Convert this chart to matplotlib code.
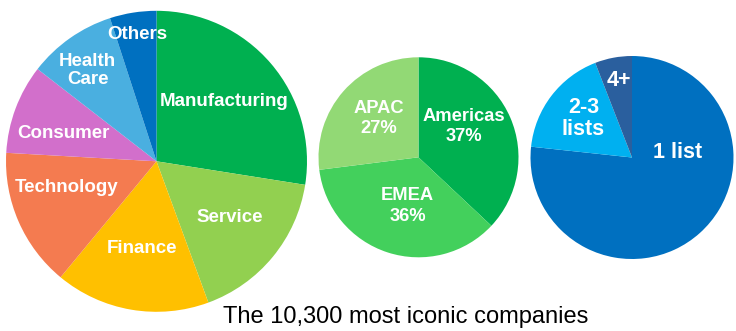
import matplotlib
matplotlib.use("Agg")
import matplotlib.pyplot as plt

# ---- data ----
industry_labels = ["Manufacturing", "Service", "Finance", "Technology", "Consumer", "Health\nCare", "Others"]
industry_values = [27.5, 16.9, 16.6, 14.9, 9.6, 9.5, 5.0]
industry_colors = ["#00B050", "#92D050", "#FFC000", "#F47B50", "#D26FCB", "#4AAFE0", "#0070C0"]

region_labels = ["Americas\n37%", "EMEA\n36%", "APAC\n27%"]
region_values = [37, 36, 27]
region_colors = ["#00B050", "#43D05C", "#92D975"]

lists_labels = ["1 list", "2-3\nlists", "4+"]
lists_values = [76.7, 17.4, 5.9]
lists_colors = ["#0070C0", "#00B0F0", "#2A5F9E"]

title = "The 10,300 most iconic companies"

W, H = 736, 331
fig = plt.figure(figsize=(W / 100, H / 100), dpi=100)
ax = fig.add_axes([0, 0, 1, 1])

def Y(y):
    return H - y

# layout (pixel coords, y measured from top)
pies = [
    (industry_values, industry_colors, industry_labels, (156.5, 161.3), 150.5,
     [(224.5, 101.5), (230, 217), (142.5, 248.5), (66.5, 187.5), (63.5, 133.5), (87.5, 70.5), (137, 34.5)], 13.5, 1.15),
    (region_values, region_colors, region_labels, (418.5, 157.3), 100,
     [(463.5, 126.5), (407.5, 206), (378.5, 118.5)], 13.2, 1.25),
    (lists_values, lists_colors, lists_labels, (632, 157.5), 101.5,
     [(677.5, 152), (583.5, 118.5), (618.5, 80)], 15.5, 1.05),
]

for vals, cols, labs, (cx, cy), r, lpos, fs, ls in pies:
    ax.pie(vals, colors=cols, startangle=90, counterclock=False,
           center=(cx, Y(cy)), radius=r,
           wedgeprops=dict(linewidth=0))
    for lab, (lx, ly) in zip(labs, lpos):
        ax.text(lx, Y(ly), lab, ha="center", va="center", color="white",
                fontsize=fs, fontweight="bold", family="Liberation Sans",
                linespacing=ls)

ax.text(405.8, Y(317), title, ha="center", va="center", color="black",
        fontsize=17, family="Liberation Sans")

ax.set_xlim(0, W)
ax.set_ylim(0, H)
ax.set_aspect("equal")
ax.axis("off")
fig.savefig("out.png", dpi=100)
